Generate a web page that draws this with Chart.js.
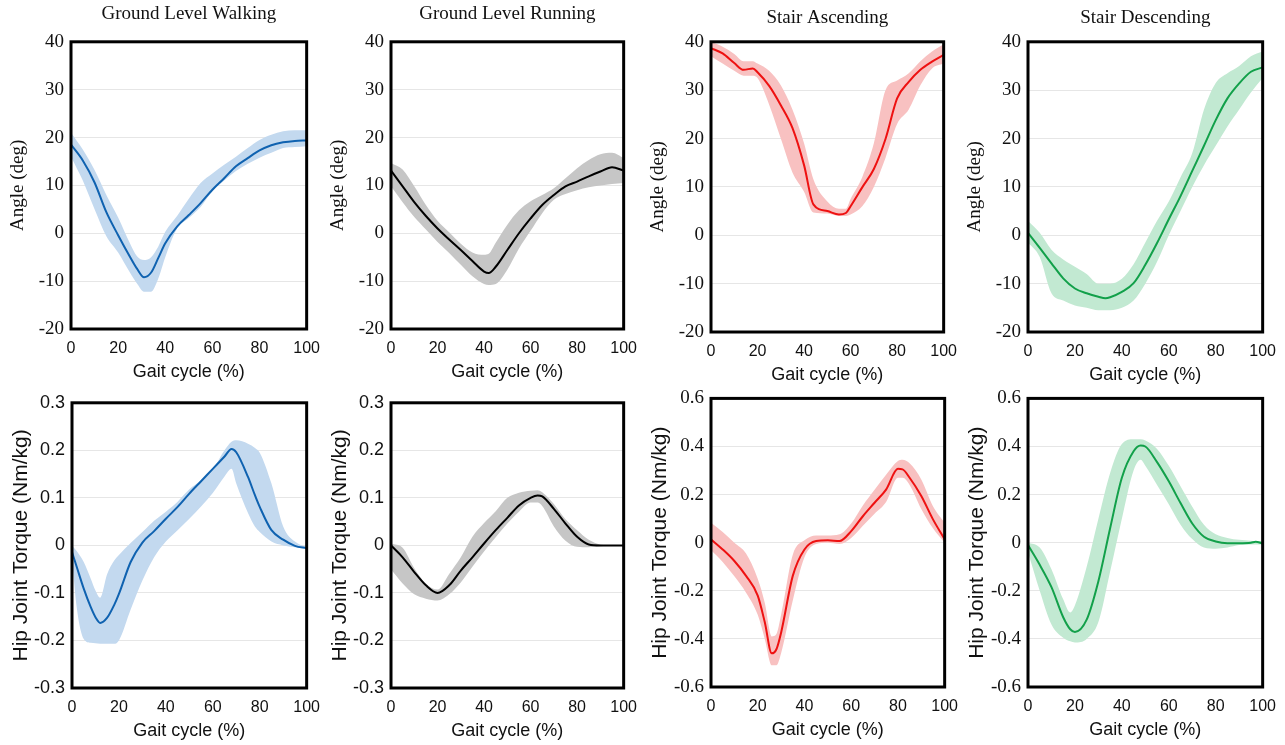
<!DOCTYPE html>
<html><head><meta charset="utf-8">
<script src="https://cdn.jsdelivr.net/npm/chart.js@4.4.1/dist/chart.umd.min.js"></script>
<style>
html,body{margin:0;padding:0;background:#fff;}
body{width:1285px;height:745px;position:relative;overflow:hidden;}
canvas{position:absolute;}
</style></head><body>
<script>
// ---------- tick labels ----------
const gaitTicks = [0, 20, 40, 60, 80, 100];
const angleTicks = [-20, -10, 0, 10, 20, 30, 40];
const torqueTicksSmall = [-0.3, -0.2, -0.1, 0, 0.1, 0.2, 0.3];
const torqueTicksLarge = [-0.6, -0.4, -0.2, 0, 0.2, 0.4, 0.6];
const panelTitles = ["Ground Level Walking", "Ground Level Running", "Stair Ascending", "Stair Descending"];

// ---------- Ground level walking: angle ----------
const walkAngleX     = [0,5,10,15,20,25,28,31,34,37,40,45,50,55,60,65,70,75,80,85,90,95,100];
const walkAngleMean  = [18.5,15.2,10.6,4.4,-0.4,-4.9,-7.4,-9.2,-8.2,-5.2,-2.1,1.4,3.8,6.3,9.1,11.5,14,15.7,17.3,18.4,19,19.3,19.4];
const walkAngleUpper = [21,17.5,13.2,8,3.3,-2.1,-4.8,-5.6,-5,-2.8,0.3,3.6,7.2,10.5,12.5,14.3,16,17.8,19.5,20.6,21.3,21.5,21.5];
const walkAngleLower = [16,11,5,-0.6,-4,-8.2,-10.5,-12.2,-12.2,-9.5,-5,1,3.2,5.5,8.8,11,13,14.5,15.8,16.8,17.8,18,18.2];

// ---------- Ground level running: angle ----------
const runAngleX     = [0,5,10,15,20,25,30,35,40,42,45,50,55,60,65,70,75,80,85,90,95,100];
const runAngleMean  = [13.1,9.8,6.5,3.6,1.0,-1.3,-3.5,-5.8,-8,-8.3,-7,-3.5,0,3.1,5.9,8,9.8,10.8,11.9,12.9,13.8,13.1];
const runAngleUpper = [14.7,13.3,9.8,5.9,2.6,0.2,-2.2,-4,-4.5,-4.3,-2,1.8,4.8,6.7,8,9.4,11.5,13.6,15.3,16.5,16.8,15.7];
const runAngleLower = [9.8,6.5,3.4,0.8,-1.8,-4.1,-6.6,-9,-10.6,-10.8,-10.6,-7.6,-3.2,0.5,4.2,7,8.2,9,9.6,10,10.3,10.5];

// ---------- Stair ascending: angle ----------
const ascAngleX     = [0,5,10,14,18,20,25,30,35,40,44,50,55,58,60,65,70,75,80,85,90,95,100];
const ascAngleMean  = [38.7,37.6,35.6,34.2,34.5,33.7,30.9,26.9,22.2,14.5,6.4,5,4.3,4.6,6,9.9,13.7,19.9,28.3,31.7,34.2,35.9,37.3];
const ascAngleUpper = [40,39,37.5,36,36,35.5,34,31,26,19,11.6,7,5.5,5.5,7.5,12,19,30,32,33.5,36,38,39.5];
const ascAngleLower = [37,35.5,34,33,33,32.5,27,20,13,9,4.7,4.5,4,4,4.3,6,10,16,23,26,31,34.5,35.5];

// ---------- Stair descending: angle ----------
const descAngleX     = [0,5,10,15,20,25,30,33,35,40,45,50,55,60,65,70,75,80,85,90,95,100];
const descAngleMean  = [0.5,-2.6,-5.8,-8.9,-11,-12,-12.7,-13,-12.8,-11.7,-9.9,-6.1,-1.6,3.3,8.1,13.3,18.5,23.8,28.3,31.4,33.8,34.7];
const descAngleUpper = [3,0.5,-3,-5,-6.5,-8,-10,-10,-10,-9,-6,-1.5,3,7,12,17,26,31.5,33.5,35,37,38];
const descAngleLower = [-1.5,-4.5,-12,-13.5,-14.5,-15,-15.5,-15.5,-15.5,-15,-13.5,-10,-5.5,0,5,10,14.5,18.5,22.5,26,29.5,32.5];

// ---------- Ground level walking: torque ----------
const walkTorqueX     = [0,2,5,8,10,12,15,18,20,25,30,35,40,45,50,55,60,65,68,70,75,78,80,85,90,95,100];
const walkTorqueMean  = [-0.014,-0.045,-0.091,-0.13,-0.151,-0.163,-0.152,-0.125,-0.102,-0.035,0.006,0.03,0.056,0.081,0.109,0.135,0.161,0.187,0.203,0.196,0.144,0.105,0.081,0.032,0.012,-0.001,-0.006];
const walkTorqueUpper = [0,-0.012,-0.035,-0.07,-0.095,-0.11,-0.06,-0.032,-0.02,0.005,0.028,0.052,0.071,0.092,0.118,0.137,0.16,0.2,0.218,0.221,0.214,0.205,0.195,0.13,0.04,0.008,-0.004];
const walkTorqueLower = [-0.025,-0.13,-0.197,-0.205,-0.206,-0.207,-0.207,-0.207,-0.2,-0.135,-0.074,-0.025,0.008,0.032,0.056,0.082,0.11,0.145,0.161,0.13,0.068,0.039,0.028,0.008,0.0,-0.004,-0.007];

// ---------- Ground level running: torque ----------
const runTorqueX     = [0,5,10,15,20,25,30,35,40,45,50,55,60,63,65,70,75,80,85,90,95,100];
const runTorqueMean  = [0,-0.025,-0.056,-0.084,-0.1,-0.084,-0.053,-0.025,0.004,0.032,0.058,0.084,0.1,0.105,0.103,0.077,0.046,0.018,0.002,0,0,0];
const runTorqueUpper = [0.004,-0.005,-0.048,-0.08,-0.093,-0.06,-0.025,0.018,0.047,0.072,0.1,0.111,0.115,0.116,0.112,0.087,0.055,0.032,0.012,0.002,0,0];
const runTorqueLower = [-0.05,-0.08,-0.103,-0.112,-0.116,-0.103,-0.078,-0.045,-0.013,0.017,0.046,0.071,0.09,0.09,0.083,0.04,0.01,-0.003,-0.004,-0.002,0,0];

// ---------- Stair ascending: torque ----------
const ascTorqueX     = [0,5,10,15,20,23,26,28,30,35,40,45,50,55,60,65,70,75,80,82,85,90,95,100];
const ascTorqueMean  = [0.014,-0.028,-0.076,-0.138,-0.22,-0.33,-0.46,-0.443,-0.374,-0.138,-0.028,0.007,0.01,0.007,0.048,0.11,0.166,0.222,0.307,0.305,0.27,0.194,0.097,0.014];
const ascTorqueUpper = [0.083,0.045,0.0,-0.045,-0.15,-0.25,-0.39,-0.38,-0.3,-0.05,0.01,0.03,0.03,0.035,0.08,0.155,0.22,0.284,0.34,0.345,0.33,0.263,0.152,0.083];
const ascTorqueLower = [-0.03,-0.08,-0.14,-0.208,-0.3,-0.4,-0.51,-0.51,-0.46,-0.24,-0.06,-0.005,0.0,-0.005,0.02,0.07,0.12,0.17,0.27,0.27,0.24,0.14,0.06,0.0];

// ---------- Stair descending: torque ----------
const descTorqueX     = [0,5,10,15,18,20,25,30,35,40,45,48,50,55,60,65,70,75,80,85,90,95,97,100];
const descTorqueMean  = [-0.01,-0.092,-0.185,-0.31,-0.36,-0.371,-0.32,-0.16,0.06,0.27,0.38,0.404,0.4,0.335,0.255,0.165,0.08,0.025,0.005,-0.002,-0.002,0,0.004,-0.003];
const descTorqueUpper = [0,-0.02,-0.11,-0.235,-0.29,-0.26,-0.1,0.1,0.29,0.41,0.43,0.43,0.425,0.39,0.32,0.235,0.15,0.075,0.035,0.02,0.012,0.008,0.007,0.007];
const descTorqueLower = [-0.04,-0.2,-0.34,-0.395,-0.41,-0.415,-0.4,-0.33,-0.12,0.1,0.3,0.345,0.32,0.24,0.16,0.075,0.015,-0.02,-0.025,-0.02,-0.01,-0.007,-0.007,-0.007];

// ---------- rendering ----------
const SERIF = "'Liberation Serif', 'Times New Roman', serif";
const SANS = "'Liberation Sans', Arial, sans-serif";
const TEXT = '#111';

const framePlugin = {
  id: 'frame',
  afterDatasetsDraw(chart) {
    const {ctx, chartArea: a} = chart;
    ctx.save();
    ctx.strokeStyle = '#000';
    ctx.lineWidth = 3;
    ctx.strokeRect(a.left, a.top, a.right - a.left, a.bottom - a.top);
    ctx.restore();
  }
};

function pts(xs, ys) { return xs.map((x, i) => ({x: x, y: ys[i]})); }
function fmt(v) { return String(+Number(v).toFixed(2)); }

function makePanel(p) {
  const yTitleSize = p.sansY ? 21 : 19;
  const yTitleLH = yTitleSize * 1.2;
  const yW = Math.round((p.sansY ? 50 : 53) + yTitleLH / 2);
  const xH = 54;
  const padL = 2, padR = 22, padB = 2;
  const padT = p.title ? 0 : 14;
  const titleLH = 19 * 1.2;
  const titleH = p.title ? titleLH + p.titlePadB : 0;
  let w = padL + yW + (p.R - p.L) + padR;
  let h = padT + titleH + (p.B - p.T) + xH + padB;

  function build(w, h) {
    const canvas = document.createElement('canvas');
    canvas.width = w; canvas.height = h;
    canvas.style.width = w + 'px'; canvas.style.height = h + 'px';
    document.body.appendChild(canvas);
    const chart = new Chart(canvas, {
      type: 'line',
      data: {
        datasets: [
          {label: 'mean', data: pts(p.x, p.mean), borderColor: p.line, borderWidth: 2,
           pointRadius: 0, fill: false, cubicInterpolationMode: 'monotone', order: 0},
          {label: 'upper', data: pts(p.x, p.upper), borderColor: 'rgba(0,0,0,0)', borderWidth: 0,
           backgroundColor: p.band, pointRadius: 0, fill: '+1', cubicInterpolationMode: 'monotone', order: 1},
          {label: 'lower', data: pts(p.x, p.lower), borderColor: 'rgba(0,0,0,0)', borderWidth: 0,
           pointRadius: 0, fill: false, cubicInterpolationMode: 'monotone', order: 2}
        ]
      },
      options: {
        responsive: false,
        animation: false,
        devicePixelRatio: 1,
        layout: {padding: {left: padL, right: padR, top: padT, bottom: padB}},
        plugins: {
          legend: {display: false},
          tooltip: {enabled: false},
          title: {
            display: !!p.title, text: p.title || '', fullSize: false,
            font: {family: SERIF, size: 19, weight: 'normal', lineHeight: 1.2},
            color: TEXT, padding: {top: 0, bottom: p.titlePadB || 0}
          }
        },
        scales: {
          x: {
            type: 'linear', min: 0, max: 100,
            afterBuildTicks: s => { s.ticks = gaitTicks.map(v => ({value: v})); },
            afterFit: s => { s.height = xH; },
            grid: {display: false, drawTicks: false},
            border: {display: false},
            ticks: {font: {family: SANS, size: 16}, color: TEXT, padding: 10, maxRotation: 0, autoSkip: false},
            title: {display: true, text: 'Gait cycle (%)', color: TEXT,
                    font: {family: SANS, size: 18, lineHeight: 1.2}, padding: {top: 0, bottom: 0}}
          },
          y: {
            type: 'linear', min: p.yTicks[0], max: p.yTicks[p.yTicks.length - 1],
            afterBuildTicks: s => { s.ticks = p.yTicks.map(v => ({value: v})); },
            afterFit: s => { s.width = yW; },
            grid: {color: '#e6e6e6', lineWidth: 1, drawTicks: false},
            border: {display: false},
            ticks: {font: p.serifTicks ? {family: SERIF, size: 19} : {family: SANS, size: 18},
                    color: TEXT, padding: 7, autoSkip: false, callback: v => fmt(v)},
            title: {display: true, text: p.yTitle, color: TEXT,
                    font: {family: p.sansY ? SANS : SERIF, size: yTitleSize, lineHeight: 1.2},
                    padding: {top: 0, bottom: 0}}
          }
        }
      },
      plugins: [framePlugin]
    });
    return {canvas, chart};
  }

  let r = build(w, h);
  let ca = r.chart.chartArea;
  const dw = (p.R - p.L) - (ca.right - ca.left);
  const dh = (p.B - p.T) - (ca.bottom - ca.top);
  if (Math.abs(dw) > 0.5 || Math.abs(dh) > 0.5) {
    r.chart.destroy(); r.canvas.remove();
    w = Math.round(w + dw); h = Math.round(h + dh);
    r = build(w, h);
    ca = r.chart.chartArea;
  }
  r.canvas.style.left = (p.L - ca.left) + 'px';
  r.canvas.style.top = (p.T - ca.top) + 'px';
}

const BLUE = {line: '#0f62b0', band: '#c3d9ef'};
const BLACK = {line: '#000000', band: '#c6c6c6'};
const RED = {line: '#ee1111', band: '#f8c1c1'};
const GREEN = {line: '#12a04a', band: '#c2e9d2'};

const panels = [
  Object.assign({title: panelTitles[0], titlePadB: 16, L: 71, T: 42, R: 307, B: 328,
    x: walkAngleX, mean: walkAngleMean, upper: walkAngleUpper, lower: walkAngleLower,
    yTicks: angleTicks, yTitle: 'Angle (deg)', serifTicks: true, sansY: false}, BLUE),
  Object.assign({title: panelTitles[1], titlePadB: 16, L: 391, T: 42, R: 624, B: 328,
    x: runAngleX, mean: runAngleMean, upper: runAngleUpper, lower: runAngleLower,
    yTicks: angleTicks, yTitle: 'Angle (deg)', serifTicks: true, sansY: false}, BLACK),
  Object.assign({title: panelTitles[2], titlePadB: 12, L: 711, T: 42, R: 944, B: 331,
    x: ascAngleX, mean: ascAngleMean, upper: ascAngleUpper, lower: ascAngleLower,
    yTicks: angleTicks, yTitle: 'Angle (deg)', serifTicks: true, sansY: false}, RED),
  Object.assign({title: panelTitles[3], titlePadB: 12, L: 1028, T: 42, R: 1263, B: 331,
    x: descAngleX, mean: descAngleMean, upper: descAngleUpper, lower: descAngleLower,
    yTicks: angleTicks, yTitle: 'Angle (deg)', serifTicks: true, sansY: false}, GREEN),
  Object.assign({title: null, L: 72, T: 403, R: 307, B: 688,
    x: walkTorqueX, mean: walkTorqueMean, upper: walkTorqueUpper, lower: walkTorqueLower,
    yTicks: torqueTicksSmall, yTitle: 'Hip Joint Torque (Nm/kg)', serifTicks: false, sansY: true}, BLUE),
  Object.assign({title: null, L: 391, T: 403, R: 624, B: 688,
    x: runTorqueX, mean: runTorqueMean, upper: runTorqueUpper, lower: runTorqueLower,
    yTicks: torqueTicksSmall, yTitle: 'Hip Joint Torque (Nm/kg)', serifTicks: false, sansY: true}, BLACK),
  Object.assign({title: null, L: 711, T: 398, R: 945, B: 687,
    x: ascTorqueX, mean: ascTorqueMean, upper: ascTorqueUpper, lower: ascTorqueLower,
    yTicks: torqueTicksLarge, yTitle: 'Hip Joint Torque (Nm/kg)', serifTicks: true, sansY: true}, RED),
  Object.assign({title: null, L: 1028, T: 398, R: 1263, B: 687,
    x: descTorqueX, mean: descTorqueMean, upper: descTorqueUpper, lower: descTorqueLower,
    yTicks: torqueTicksLarge, yTitle: 'Hip Joint Torque (Nm/kg)', serifTicks: true, sansY: true}, GREEN)
];

panels.forEach(makePanel);
</script>
</body></html>
